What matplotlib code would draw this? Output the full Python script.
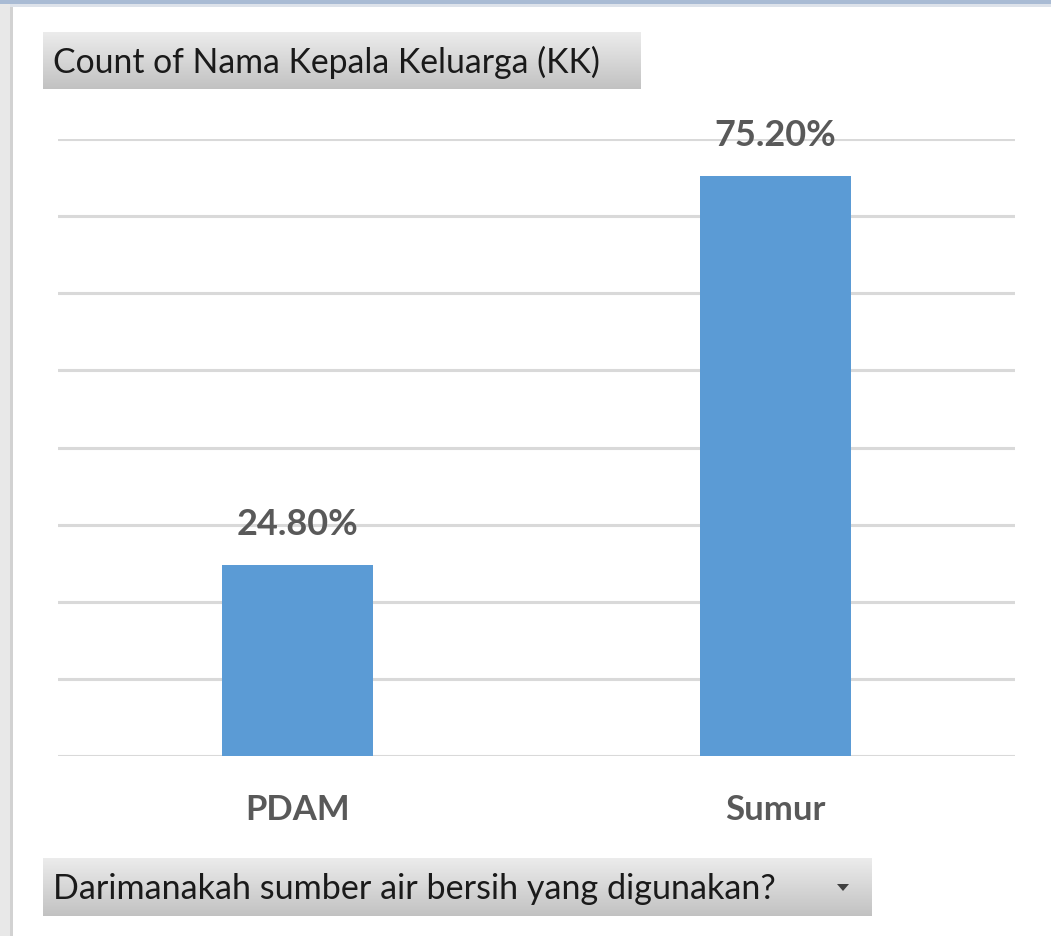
import matplotlib
matplotlib.use("Agg")
import matplotlib.pyplot as plt
import numpy as np
from matplotlib.patches import Rectangle, Polygon

categories = ["PDAM", "Sumur"]
values = [24.80, 75.20]
labels = ["24.80%", "75.20%"]
title_text = "Count of Nama Kepala Keluarga (KK)"
field_text = "Darimanakah sumber air bersih yang digunakan?"

W, H = 1051, 937
fig = plt.figure(figsize=(W / 100, H / 100), dpi=100)
fig.patch.set_facecolor("white")

def fx(px):
    return px / W

def fy(py):
    return 1 - py / H

# Window borders
fig.patches.append(Rectangle((0, fy(5)), 1, fy(0) - fy(5), transform=fig.transFigure,
                             facecolor="#a9bbd4", edgecolor="none", zorder=0))
fig.patches.append(Rectangle((0, fy(8)), 1, fy(5) - fy(8), transform=fig.transFigure,
                             facecolor="#dde2ea", edgecolor="none", zorder=0))
fig.patches.append(Rectangle((0, 0), fx(10), fy(5), transform=fig.transFigure,
                             facecolor="#e8e8e8", edgecolor="none", zorder=0))
fig.patches.append(Rectangle((fx(10), 0), fx(3), fy(8), transform=fig.transFigure,
                             facecolor="#d2d2d2", edgecolor="none", zorder=0))

FONT = "Lato"

# Main axes
ax = fig.add_axes([fx(58), fy(757), fx(1015) - fx(58), fy(140) - fy(757)])
x = np.arange(len(categories))
ax.bar(x, values, width=0.315, color="#5b9bd5", zorder=3)
ax.set_xlim(-0.5, 1.5)
ax.set_ylim(0, 80)
ax.set_yticks(np.arange(0, 81, 10))
ax.yaxis.grid(True, color="#d9d9d9", linewidth=2.2, zorder=0)
ax.set_axisbelow(True)
for s in ax.spines.values():
    s.set_visible(False)
ax.tick_params(left=False, labelleft=False, bottom=False)
ax.set_xticks(x)
ax.set_xticklabels(categories, fontsize=25, fontweight="bold", color="#595959", family=FONT)
ax.tick_params(axis="x", pad=23)
for xi, v, lab in zip(x, values, labels):
    ax.annotate(lab, (xi, v), xytext=(0, 22), textcoords="offset points",
                ha="center", va="baseline", fontsize=26, fontweight="bold",
                color="#595959", family=FONT)

def button(x0, y0, x1, y1, text, fs, arrow=False):
    bax = fig.add_axes([fx(x0), fy(y1), fx(x1) - fx(x0), fy(y0) - fy(y1)])
    grad = np.linspace(0, 1, 100).reshape(-1, 1)
    top = np.array([0.925, 0.925, 0.925])
    bot = np.array([0.76, 0.76, 0.76])
    img = top + (bot - top) * grad[:, :, None]
    bax.imshow(np.repeat(img, 2, axis=1), aspect="auto", extent=[0, 1, 0, 1], origin="upper")
    bax.set_xlim(0, 1)
    bax.set_ylim(0, 1)
    bax.axis("off")
    fig.text(fx(x0 + 10), fy((y0 + y1) / 2 + 1), text, ha="left", va="center",
             fontsize=fs, color="#1a1a1a", family=FONT)
    if arrow:
        cx, cy = x1 - 29, (y0 + y1) / 2
        tri = Polygon([(fx(cx - 6), fy(cy - 3)), (fx(cx + 6), fy(cy - 3)), (fx(cx), fy(cy + 4))],
                      closed=True, transform=fig.transFigure, facecolor="#404040",
                      edgecolor="none", zorder=5)
        fig.patches.append(tri)

button(43, 33, 641, 90, title_text, 24.3)
button(43, 859, 872, 917, field_text, 24.6, arrow=True)

fig.savefig("out.png", dpi=100, facecolor="white")
